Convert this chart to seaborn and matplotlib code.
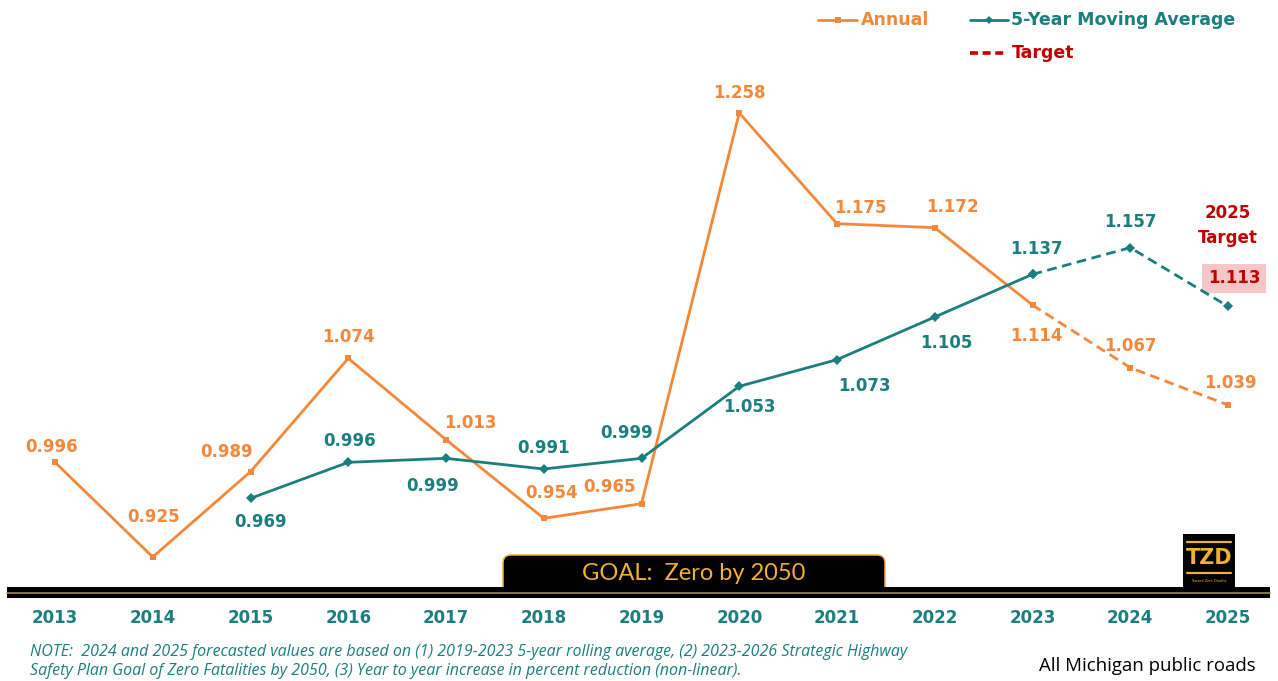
import matplotlib
matplotlib.use("Agg")
import matplotlib.pyplot as plt
import seaborn as sns
import pandas as pd
from matplotlib.patches import Rectangle, FancyBboxPatch
from matplotlib.lines import Line2D
from matplotlib.transforms import Affine2D

# ---------------- data ----------------
years = list(range(2013, 2026))
annual = [0.996, 0.925, 0.989, 1.074, 1.013, 0.954, 0.965, 1.258, 1.175, 1.172, 1.114, 1.067, 1.039]
ma_years = list(range(2015, 2026))
moving_avg = [0.969, 0.996, 0.999, 0.991, 0.999, 1.053, 1.073, 1.105, 1.137, 1.157, 1.113]
forecast_start = 2023
target_year = 2025
target_value = 1.113
year_labels = [str(y) for y in years]
legend_labels = ["Annual", "5-Year Moving Average", "Target"]
goal_text = "GOAL:  Zero by 2050"
note_lines = [
    "NOTE:  2024 and 2025 forecasted values are based on (1) 2019-2023 5-year rolling average, (2) 2023-2026 Strategic Highway",
    "Safety Plan Goal of Zero Fatalities by 2050, (3) Year to year increase in percent reduction (non-linear).",
]
source_text = "All Michigan public roads"

# label offsets (pixels, y up) -- layout only
annual_off = [(-3, 15), (1, 40), (-24, 20), (0, 21), (24, 17), (8, 25), (-32, 17),
              (0, 20), (23, 16), (18, 21), (4, -31), (0, 22), (2, 22)]
ma_off = [(10, -24), (1, 21), (-13, -28), (0, 21), (-15, 25), (10, -21), (27, -26),
          (12, -26), (4, 25), (0, 26)]

ORANGE = "#F3883A"
TEAL = "#1A7F7D"
RED = "#C00000"
GOLD = "#F0B030"
PINK = "#F7C6C6"

W, H = 1278, 681
sns.set_theme(style="white")
plt.rcParams['font.family'] = ['DejaVu Sans']

fig = plt.figure(figsize=(W / 100, H / 100), dpi=100)
fig.patch.set_facecolor("white")
ax = fig.add_axes([0, 0, 1, 1])
ax.set_xlim(2012.4373, 2025.5115)
ax.set_ylim(0.832, 1.34275)
ax.axis('off')

# pixel transform (origin top-left)
PX = Affine2D().scale(1 / W, -1 / H).translate(0, 1) + fig.transFigure

df_a = pd.DataFrame({"year": years, "value": annual})
df_m = pd.DataFrame({"year": ma_years, "value": moving_avg})

dash = (0, (3.5, 2))
sns.lineplot(data=df_a[df_a.year <= forecast_start], x="year", y="value", color=ORANGE,
             linewidth=2.0, marker="s", markersize=5, markeredgewidth=0, ax=ax, zorder=3)
sns.lineplot(data=df_a[df_a.year >= forecast_start], x="year", y="value", color=ORANGE,
             linewidth=2.0, linestyle=dash, marker="s", markersize=5, markeredgewidth=0, ax=ax, zorder=3)
sns.lineplot(data=df_m[df_m.year <= forecast_start], x="year", y="value", color=TEAL,
             linewidth=2.0, marker="D", markersize=5, markeredgewidth=0, ax=ax, zorder=4)
sns.lineplot(data=df_m[df_m.year >= forecast_start], x="year", y="value", color=TEAL,
             linewidth=2.0, linestyle=dash, marker="D", markersize=5, markeredgewidth=0, ax=ax, zorder=4)
ax.set_xlabel("")
ax.set_ylabel("")
ax.axis('off')

lab_kw = dict(textcoords="offset pixels", ha="center", va="center", fontsize=12, fontweight="bold")
for yr, v, (dx, dy) in zip(years, annual, annual_off):
    ax.annotate(f"{v:.3f}", (yr, v), xytext=(dx, dy), color=ORANGE, **lab_kw)
for yr, v, (dx, dy) in zip(ma_years[:-1], moving_avg[:-1], ma_off):
    ax.annotate(f"{v:.3f}", (yr, v), xytext=(dx, dy), color=TEAL, **lab_kw)

# target
ax.annotate(f"{target_value:.3f}", (target_year, target_value), xytext=(6, 28), color=RED,
            bbox=dict(boxstyle="square,pad=0.32", fc=PINK, ec="none"), **lab_kw)
ax.annotate(str(target_year), (target_year, target_value), xytext=(0, 93), color=RED, **lab_kw)
ax.annotate("Target", (target_year, target_value), xytext=(0, 68), color=RED, **lab_kw)

# year labels
for yr, lbl in zip(years, year_labels):
    ax.text(yr, 1 - 618 / H, lbl, transform=ax.get_xaxis_transform(), ha="center", va="center",
            fontsize=12, fontweight="bold", color=TEAL)

# GOAL box and band
goal = FancyBboxPatch((503, 555), 382, 40, boxstyle="round,pad=0,rounding_size=8",
                      transform=PX, fc="black", ec=GOLD, lw=1.1, zorder=5)
fig.add_artist(goal)
band = Rectangle((7, 587), 1263, 11, transform=PX, fc="black", ec="none", zorder=6)
fig.add_artist(band)
fig.add_artist(Line2D([7, 1270], [592.5, 592.5], transform=PX, color="#9C8A58", lw=1.2, zorder=7))
fig.text(694 / W, 1 - 573 / H, goal_text, ha="center", va="center", color=GOLD,
         fontsize=17, family=["Lato", "DejaVu Sans"], zorder=8)

# TZD logo
fig.add_artist(Rectangle((1183, 534), 52, 56, transform=PX, fc="black", ec="none", zorder=6))
fig.add_artist(Line2D([1187, 1231], [542, 542], transform=PX, color=GOLD, lw=1.6, zorder=7))
fig.add_artist(Line2D([1187, 1231], [573, 573], transform=PX, color=GOLD, lw=1.6, zorder=7))
fig.text(1209 / W, 1 - 558 / H, "TZD", ha="center", va="center", color=GOLD, fontsize=15,
         fontweight="bold", family=["DejaVu Sans"], zorder=8)
fig.text(1209 / W, 1 - 581 / H, "Toward Zero Deaths", ha="center", va="center", color=GOLD,
         fontsize=2.5, zorder=8)

# legend (manual)
fig.add_artist(Line2D([818, 857], [20, 20], transform=PX, color=ORANGE, lw=2, zorder=7))
fig.add_artist(Line2D([838], [20], transform=PX, color=ORANGE, marker="s", ms=4, mew=0, zorder=8))
fig.text(861 / W, 1 - 20 / H, legend_labels[0], ha="left", va="center", color=ORANGE,
         fontsize=12.5, fontweight="bold")
fig.add_artist(Line2D([970, 1008], [20, 20], transform=PX, color=TEAL, lw=2, zorder=7))
fig.add_artist(Line2D([989], [20], transform=PX, color=TEAL, marker="D", ms=4.5, mew=0, zorder=8))
fig.text(1011 / W, 1 - 20 / H, legend_labels[1], ha="left", va="center", color=TEAL,
         fontsize=12.5, fontweight="bold")
fig.add_artist(Line2D([970, 1008], [53, 53], transform=PX, color=RED, lw=2.6,
                      linestyle=(0, (2.2, 1.3)), zorder=7))
fig.text(1012 / W, 1 - 53 / H, legend_labels[2], ha="left", va="center", color=RED,
         fontsize=12.5, fontweight="bold")

# note & source
for i, line in enumerate(note_lines):
    fig.text(30 / W, 1 - (652 + 19 * i) / H, line, ha="left", va="center", color=TEAL,
             fontsize=11.5, style="italic", family=["Open Sans", "DejaVu Sans"])
fig.text(1256 / W, 1 - 666 / H, source_text, ha="right", va="center", color="black",
         fontsize=13.4, family=["Open Sans", "DejaVu Sans"])

fig.savefig("out.png", dpi=100, facecolor="white")
